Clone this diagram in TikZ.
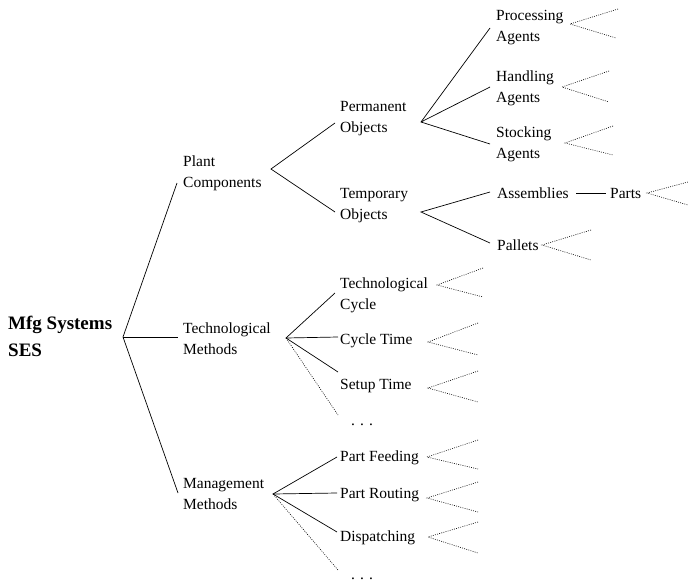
\documentclass[tikz,border=0pt]{standalone}
\usepackage{fontspec}
\setmainfont{Liberation Serif}
\begin{document}
\begin{tikzpicture}[x=1pt,y=-1pt,
  lbl/.style={anchor=west,align=left,inner sep=0pt,font=\fontsize{15.5}{21}\selectfont},
  rootlbl/.style={anchor=west,align=left,inner sep=0pt,font=\bfseries\fontsize{19}{27}\selectfont},
  dots/.style={anchor=base,inner sep=0pt,font=\fontsize{15.5}{21}\selectfont},
  edge/.style={line width=0.7pt},
  openedge/.style={line width=0.6pt,dash pattern=on 0.9pt off 1.3pt},
]
\useasboundingbox (0,0) rectangle (688,581);

% a dotted fan: tip, upper end, lower end
\newcommand\fanout[3]{\draw[openedge] (#2) -- (#1) -- (#3);}

% ---- labels ----
\node[rootlbl] (root) at (8,336) {Mfg Systems\\SES};

\node[lbl] (pc) at (183,173) {Plant\\Components};
\node[lbl] (tm) at (183,339) {Technological\\Methods};
\node[lbl] (mm) at (183,494) {Management\\Methods};

\node[lbl] (po) at (340,119) {Permanent\\Objects};
\node[lbl] (to) at (340,206) {Temporary\\Objects};

\node[lbl] (pa) at (496,28) {Processing\\Agents};
\node[lbl] (ha) at (496,88) {Handling\\Agents};
\node[lbl] (sa) at (496,144) {Stocking\\Agents};

\node[lbl] (as) at (497,193) {Assemblies};
\node[lbl] (pt) at (610,193) {Parts};
\node[lbl] (pl) at (497,245) {Pallets};

\node[lbl] (tc) at (340,295) {Technological\\Cycle};
\node[lbl] (ct) at (340,341) {Cycle Time};
\node[lbl] (st) at (340,386) {Setup Time};
\node[dots] (td) at (362,425) {.\,\,.\,\,.};

\node[lbl] (pf) at (340,458) {Part Feeding};
\node[lbl] (pr) at (340,495) {Part Routing};
\node[lbl] (dp) at (340,538) {Dispatching};
\node[dots] (md) at (362,579) {.\,\,.\,\,.};

% ---- junctions and branch ends ----
\coordinate (j0) at (123,337);
\coordinate (j0a) at (177,183);
\coordinate (j0b) at (178,337);
\coordinate (j0c) at (178,493);

\coordinate (j1) at (271,169);
\coordinate (j1a) at (335,123);
\coordinate (j1b) at (335,212);

\coordinate (j2) at (421,122);
\coordinate (j2a) at (490,28);
\coordinate (j2b) at (490,87);
\coordinate (j2c) at (490,144);

\coordinate (j3) at (421,212);
\coordinate (j3a) at (490,192);
\coordinate (j3b) at (490,243);

\coordinate (j4) at (286,338);
\coordinate (j4a) at (335,293);
\coordinate (j4b) at (338,337);
\coordinate (j4c) at (338,372);
\coordinate (j4d) at (338,415);

\coordinate (j5) at (273,494);
\coordinate (j5a) at (337,457);
\coordinate (j5b) at (337,493);
\coordinate (j5c) at (337,532);
\coordinate (j5d) at (338,570);

\coordinate (asR) at (576,193);
\coordinate (ptL) at (606,193);

% ---- solid branches ----
\draw[edge] (j0a) -- (j0) -- (j0c);
\draw[edge] (j0) -- (j0b);
\draw[edge] (j1a) -- (j1) -- (j1b);
\draw[edge] (j2a) -- (j2) -- (j2c);
\draw[edge] (j2) -- (j2b);
\draw[edge] (j3a) -- (j3) -- (j3b);
\draw[edge] (j4a) -- (j4) -- (j4c);
\draw[edge] (j4) -- (j4b);
\draw[edge] (j5a) -- (j5) -- (j5c);
\draw[edge] (j5) -- (j5b);
\draw[edge] (asR) -- (ptL);

% ---- open branches ----
\draw[openedge] (j4) -- (j4d);
\draw[openedge] (j5) -- (j5d);

% ---- dotted fans after the leaves ----
\coordinate (fpa) at (570,24);  \coordinate (fpa1) at (618,9);   \coordinate (fpa2) at (616,38);
\coordinate (fha) at (562,87);  \coordinate (fha1) at (609,71);  \coordinate (fha2) at (609,102);
\coordinate (fsa) at (565,143); \coordinate (fsa1) at (613,126); \coordinate (fsa2) at (613,155);
\coordinate (fpt) at (647,193); \coordinate (fpt1) at (688,182); \coordinate (fpt2) at (688,205);
\coordinate (fpl) at (542,245); \coordinate (fpl1) at (591,230); \coordinate (fpl2) at (591,260);
\coordinate (ftc) at (437,285); \coordinate (ftc1) at (483,268); \coordinate (ftc2) at (483,297);
\coordinate (fct) at (428,342); \coordinate (fct1) at (478,323); \coordinate (fct2) at (478,355);
\coordinate (fst) at (428,388); \coordinate (fst1) at (478,371); \coordinate (fst2) at (478,402);
\coordinate (fpf) at (427,457); \coordinate (fpf1) at (478,440); \coordinate (fpf2) at (478,469);
\coordinate (fpr) at (427,498); \coordinate (fpr1) at (478,482); \coordinate (fpr2) at (478,512);
\coordinate (fdp) at (428,537); \coordinate (fdp1) at (478,522); \coordinate (fdp2) at (478,553);

\fanout{fpa}{fpa1}{fpa2}
\fanout{fha}{fha1}{fha2}
\fanout{fsa}{fsa1}{fsa2}
\fanout{fpt}{fpt1}{fpt2}
\fanout{fpl}{fpl1}{fpl2}
\fanout{ftc}{ftc1}{ftc2}
\fanout{fct}{fct1}{fct2}
\fanout{fst}{fst1}{fst2}
\fanout{fpf}{fpf1}{fpf2}
\fanout{fpr}{fpr1}{fpr2}
\fanout{fdp}{fdp1}{fdp2}
\end{tikzpicture}
\end{document}
